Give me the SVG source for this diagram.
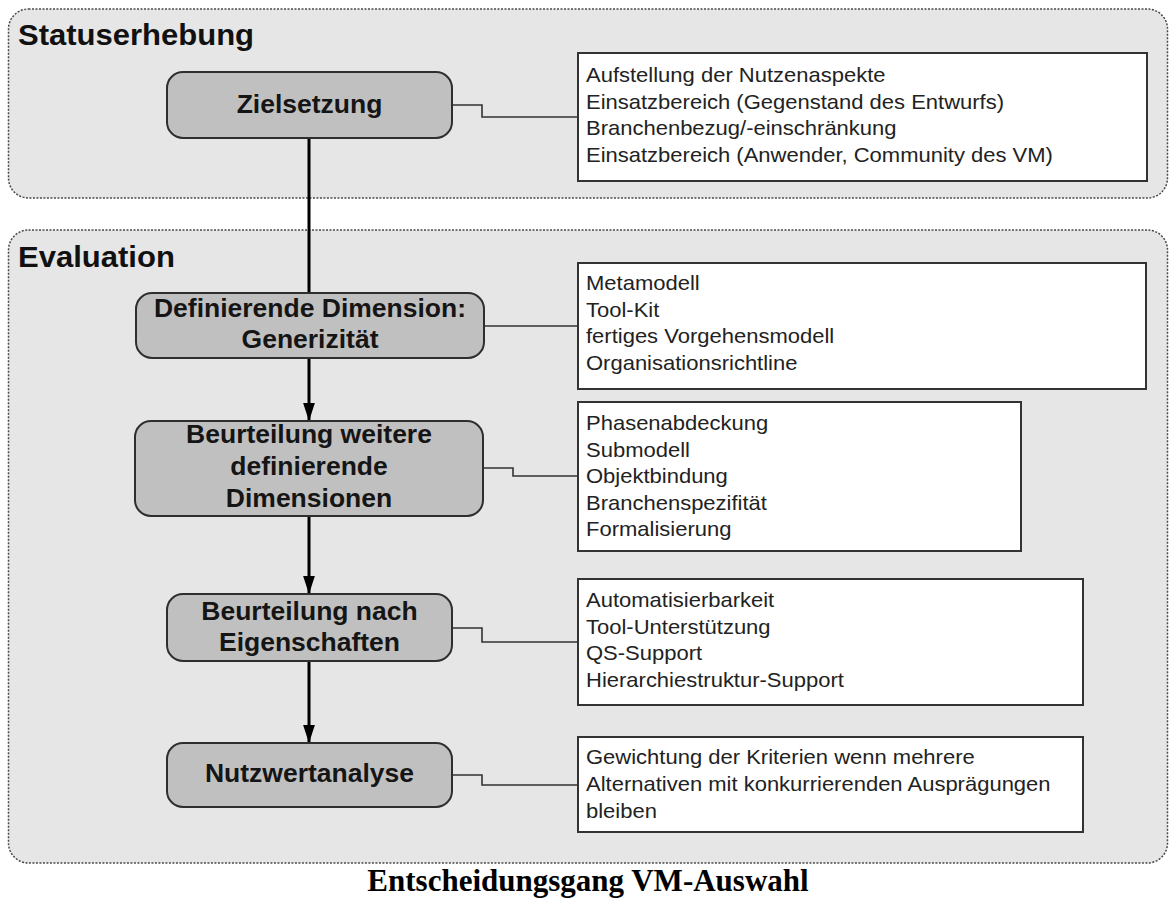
<svg xmlns="http://www.w3.org/2000/svg" width="1171" height="899" viewBox="0 0 1171 899">
<style>
.cont{fill:#e6e6e6;stroke:#4a4a4a;stroke-width:1.5;stroke-dasharray:2 1.5}
.node{fill:#c0c0c0;stroke:#2e2e2e;stroke-width:2}
.box{fill:#ffffff;stroke:#333333;stroke-width:2}
.title{font-family:"Liberation Sans",Arial,sans-serif;font-weight:bold;font-size:29px;fill:#111}
.nt{font-family:"Liberation Sans",Arial,sans-serif;font-weight:bold;font-size:25px;fill:#151515;text-anchor:middle}
.bt{font-family:"Liberation Sans",Arial,sans-serif;font-size:20px;fill:#222}
.cap{font-family:"Liberation Serif","Times New Roman",serif;font-weight:bold;font-size:31px;fill:#000;text-anchor:middle}
.flow{fill:none;stroke:#000;stroke-width:3}
.link{fill:none;stroke:#333;stroke-width:1.6}
</style>
<defs>
<marker id="ah" markerUnits="userSpaceOnUse" markerWidth="18" markerHeight="28" refX="26" refY="8.5" orient="auto" viewBox="0 0 26 17">
<path d="M0,0 L26,8.5 L0,17 Z" fill="#000"/>
</marker>
</defs>
<rect width="1171" height="899" fill="#ffffff"/>

<g id="statuserhebung">
<rect class="cont" x="8.5" y="9" width="1159" height="189" rx="20"/>
<text class="title" transform="translate(18 45) scale(1.07 1)">Statuserhebung</text>
</g>
<g id="evaluation">
<rect class="cont" x="8.5" y="230" width="1159" height="633" rx="20"/>
<text class="title" transform="translate(18 267) scale(1.07 1)">Evaluation</text>
</g>

<g id="connectors">
<line class="flow" x1="309" y1="138" x2="309" y2="293"/>
<line class="flow" x1="309" y1="358" x2="309" y2="421" marker-end="url(#ah)"/>
<line class="flow" x1="309" y1="516" x2="309" y2="594" marker-end="url(#ah)"/>
<line class="flow" x1="309" y1="661" x2="309" y2="743" marker-end="url(#ah)"/>
<polyline class="link" points="452,105 482,105 482,117 578,117"/>
<polyline class="link" points="484,326 578,326"/>
<polyline class="link" points="483,468 513,468 513,476 578,476"/>
<polyline class="link" points="452,628 482,628 482,642 578,642"/>
<polyline class="link" points="452,775 482,775 482,785 578,785"/>
</g>

<g id="zielsetzung">
<rect class="node" x="167" y="72" width="285" height="66" rx="16"/>
<text class="nt" transform="translate(309.5 113) scale(1.06 1)">Zielsetzung</text>
</g>
<g id="box-ziel">
<rect class="box" x="578" y="53" width="569" height="128"/>
<text class="bt" transform="translate(586 82) scale(1.1 1)">Aufstellung der Nutzenaspekte</text>
<text class="bt" transform="translate(586 108.5) scale(1.1 1)">Einsatzbereich (Gegenstand des Entwurfs)</text>
<text class="bt" transform="translate(586 135) scale(1.1 1)">Branchenbezug/-einschränkung</text>
<text class="bt" transform="translate(586 161.5) scale(1.1 1)">Einsatzbereich (Anwender, Community des VM)</text>
</g>

<g id="definierende">
<rect class="node" x="136" y="293" width="348" height="65" rx="16"/>
<text class="nt" transform="translate(310 317) scale(1.06 1)">Definierende Dimension:</text>
<text class="nt" transform="translate(310 348) scale(1.06 1)">Generizität</text>
</g>
<g id="box-generizitaet">
<rect class="box" x="578" y="263" width="568" height="126"/>
<text class="bt" transform="translate(586 290) scale(1.1 1)">Metamodell</text>
<text class="bt" transform="translate(586 316.5) scale(1.1 1)">Tool-Kit</text>
<text class="bt" transform="translate(586 343) scale(1.1 1)">fertiges Vorgehensmodell</text>
<text class="bt" transform="translate(586 369.5) scale(1.1 1)">Organisationsrichtline</text>
</g>

<g id="beurteilung-weitere">
<rect class="node" x="135" y="421" width="348" height="95" rx="16"/>
<text class="nt" transform="translate(309 443) scale(1.06 1)">Beurteilung weitere</text>
<text class="nt" transform="translate(309 475) scale(1.06 1)">definierende</text>
<text class="nt" transform="translate(309 507) scale(1.06 1)">Dimensionen</text>
</g>
<g id="box-dimensionen">
<rect class="box" x="578" y="402" width="443" height="149"/>
<text class="bt" transform="translate(586 430) scale(1.1 1)">Phasenabdeckung</text>
<text class="bt" transform="translate(586 456.5) scale(1.1 1)">Submodell</text>
<text class="bt" transform="translate(586 483) scale(1.1 1)">Objektbindung</text>
<text class="bt" transform="translate(586 509.5) scale(1.1 1)">Branchenspezifität</text>
<text class="bt" transform="translate(586 536) scale(1.1 1)">Formalisierung</text>
</g>

<g id="beurteilung-nach">
<rect class="node" x="167" y="594" width="285" height="67" rx="16"/>
<text class="nt" transform="translate(309.5 620) scale(1.06 1)">Beurteilung nach</text>
<text class="nt" transform="translate(309.5 651) scale(1.06 1)">Eigenschaften</text>
</g>
<g id="box-eigenschaften">
<rect class="box" x="578" y="579" width="505" height="126"/>
<text class="bt" transform="translate(586 607) scale(1.1 1)">Automatisierbarkeit</text>
<text class="bt" transform="translate(586 633.5) scale(1.1 1)">Tool-Unterstützung</text>
<text class="bt" transform="translate(586 660) scale(1.1 1)">QS-Support</text>
<text class="bt" transform="translate(586 686.5) scale(1.1 1)">Hierarchiestruktur-Support</text>
</g>

<g id="nutzwertanalyse">
<rect class="node" x="167" y="743" width="285" height="64" rx="16"/>
<text class="nt" transform="translate(309.5 782) scale(1.06 1)">Nutzwertanalyse</text>
</g>
<g id="box-nutzwert">
<rect class="box" x="578" y="737" width="505" height="95"/>
<text class="bt" transform="translate(586 764) scale(1.1 1)">Gewichtung der Kriterien wenn mehrere</text>
<text class="bt" transform="translate(586 791) scale(1.1 1)">Alternativen mit konkurrierenden Ausprägungen</text>
<text class="bt" transform="translate(586 818) scale(1.1 1)">bleiben</text>
</g>

<g id="caption">
<text class="cap" x="588" y="891">Entscheidungsgang VM-Auswahl</text>
</g>
</svg>
